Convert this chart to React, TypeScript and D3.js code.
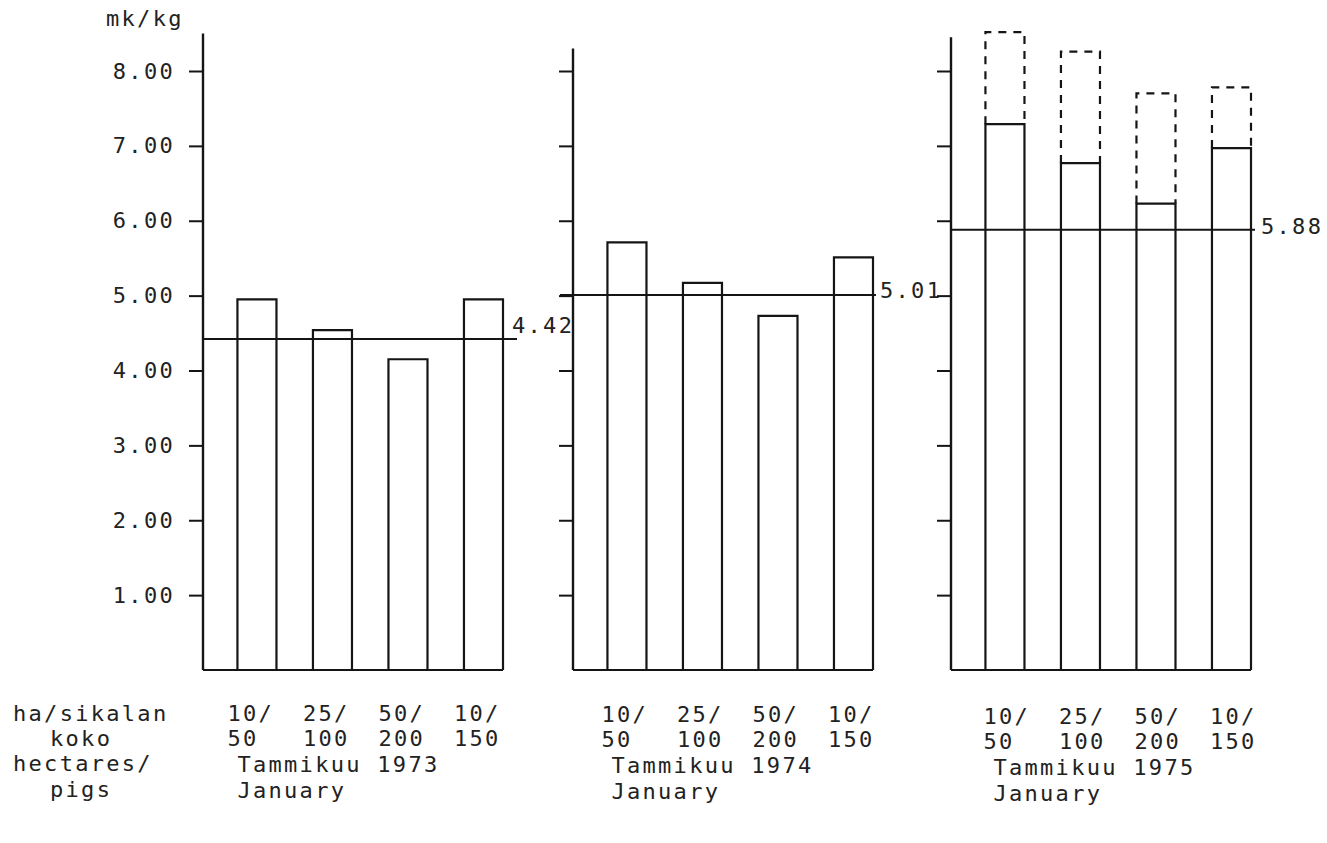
import { useRef, useEffect } from 'react';
import * as d3 from 'd3';

// Production cost of pork, mk/kg, by farm size (hectares / pigs)
const categoryKeys = ['10/50', '25/100', '50/200', '10/150'];
const categoriesTop = ['10/', '25/', '50/', '10/'];
const categoriesBottom = ['50', '100', '200', '150'];

const yTicks = [1, 2, 3, 4, 5, 6, 7, 8];
const yTickLabels = ['1.00', '2.00', '3.00', '4.00', '5.00', '6.00', '7.00', '8.00'];
const unitLabel = 'mk/kg';

const rowLabels = ['ha/sikalan', 'koko', 'hectares/', 'pigs'];
const panelTitles = ['Tammikuu 1973', 'Tammikuu 1974', 'Tammikuu 1975'];
const panelSubtitles = ['January', 'January', 'January'];

const costs1973 = [4.95, 4.54, 4.15, 4.95];
const costs1974 = [5.71, 5.17, 4.73, 5.51];
const costs1975 = [7.29, 6.77, 6.23, 6.97];
const costs1975Upper = [8.52, 8.26, 7.7, 7.78];

const averages = [4.42, 5.01, 5.88];
const averageLabels = ['4.42', '5.01', '5.88'];

const WIDTH = 1327;
const HEIGHT = 843;
const FONT = '"DejaVu Sans Mono", monospace';
const FONT_SIZE = 22;
const LETTER_SPACING = 2.3;
const INK = '#151515';
const TEXT_INK = '#222';

export default function App() {
  const svgRef = useRef<SVGSVGElement>(null);

  useEffect(() => {
    if (!svgRef.current) return;
    document.body.style.margin = '0';

    const svg = d3.select(svgRef.current);
    svg.selectAll('*').remove();

    svg.append('rect').attr('width', WIDTH).attr('height', HEIGHT).attr('fill', '#fff');

    const yScale = d3.scaleLinear().domain([0, 8]).range([670, 71]);

    const addText = (
      parent: d3.Selection<any, unknown, null, undefined>,
      x: number,
      y: number,
      txt: string,
    ) =>
      parent
        .append('text')
        .attr('x', x)
        .attr('y', y)
        .attr('font-family', FONT)
        .attr('font-size', FONT_SIZE)
        .attr('letter-spacing', LETTER_SPACING)
        .attr('fill', TEXT_INK)
        .text(txt);

    const panels = [
      { x0: 203, values: costs1973, upper: null as number[] | null, axisTop: 8.5, avgStart: 0, avgEnd: 314, avgLabelDx: -5, avgLabelDy: -6, labelDx: -10, rowDy: 0 },
      { x0: 573, values: costs1974, upper: null as number[] | null, axisTop: 8.3, avgStart: -13, avgEnd: 303, avgLabelDx: 4, avgLabelDy: 3, labelDx: -6, rowDy: 1 },
      { x0: 951, values: costs1975, upper: costs1975Upper, axisTop: 8.45, avgStart: 0, avgEnd: 304, avgLabelDx: 6, avgLabelDy: 4, labelDx: -2, rowDy: 3 },
    ];

    panels.forEach((p, pi) => {
      const g = svg.append('g');

      const xScale = d3
        .scaleBand<string>()
        .domain(categoryKeys)
        .range([p.x0, p.x0 + 300])
        .paddingInner(0.483)
        .paddingOuter(0.228)
        .align(1);

      // y axis with outward ticks; labels only on the first panel
      const axis = d3
        .axisLeft(yScale)
        .tickValues(yTicks)
        .tickSize(14)
        .tickSizeOuter(0)
        .tickPadding(14)
        .tickFormat((d, i) => (pi === 0 ? yTickLabels[i] : ''));

      const axisG = g.append('g').attr('transform', `translate(${p.x0},0)`).call(axis);
      axisG.select('.domain').remove();
      axisG.selectAll('.tick line').attr('stroke', INK).attr('stroke-width', 2);
      axisG
        .selectAll('.tick text')
        .attr('fill', TEXT_INK)
        .attr('font-family', FONT)
        .attr('font-size', FONT_SIZE)
        .attr('letter-spacing', LETTER_SPACING);

      g.append('line')
        .attr('x1', p.x0)
        .attr('x2', p.x0)
        .attr('y1', yScale(0))
        .attr('y2', yScale(p.axisTop))
        .attr('stroke', INK)
        .attr('stroke-width', 2.4);

      // baseline
      g.append('line')
        .attr('x1', p.x0)
        .attr('x2', p.x0 + 300)
        .attr('y1', yScale(0))
        .attr('y2', yScale(0))
        .attr('stroke', INK)
        .attr('stroke-width', 2.2);

      // bars
      categoryKeys.forEach((key, i) => {
        const x = xScale(key) as number;
        const w = xScale.bandwidth();
        const top = yScale(p.values[i]);
        g.append('path')
          .attr('d', `M${x},${yScale(0)}V${top}H${x + w}V${yScale(0)}`)
          .attr('fill', 'none')
          .attr('stroke', INK)
          .attr('stroke-width', 2.2);

        if (p.upper) {
          const upTop = yScale(p.upper[i]);
          g.append('path')
            .attr('d', `M${x},${top}V${upTop}H${x + w}V${top}`)
            .attr('fill', 'none')
            .attr('stroke', INK)
            .attr('stroke-width', 2.2)
            .attr('stroke-dasharray', '8,7');
        }

        const lx = x + p.labelDx;
        addText(g, lx, 721 + p.rowDy, categoriesTop[i]);
        addText(g, lx, 746 + p.rowDy, categoriesBottom[i]);
      });

      // average line
      const avgY = yScale(averages[pi]);
      g.append('line')
        .attr('x1', p.x0 + p.avgStart)
        .attr('x2', p.x0 + p.avgEnd)
        .attr('y1', avgY)
        .attr('y2', avgY)
        .attr('stroke', INK)
        .attr('stroke-width', 2);

      addText(g, p.x0 + p.avgEnd + p.avgLabelDx, avgY + p.avgLabelDy, averageLabels[pi]);

      // panel titles
      const firstX = (xScale(categoryKeys[0]) as number) + p.labelDx + 10;
      addText(g, firstX, 772 + p.rowDy, panelTitles[pi]);
      addText(g, firstX, 798 + p.rowDy, panelSubtitles[pi]);
    });

    // unit label
    addText(svg as any, 106, 26, unitLabel);

    // row labels on the left
    const rowX = [13, 50, 13, 50];
    const rowY = [721, 746, 771, 797];
    rowLabels.forEach((label, i) => {
      addText(svg as any, rowX[i], rowY[i], label);
    });
  }, []);

  return (
    <svg
      ref={svgRef}
      width={WIDTH}
      height={HEIGHT}
      style={{ position: 'absolute', left: 0, top: 0, display: 'block' }}
    />
  );
}
